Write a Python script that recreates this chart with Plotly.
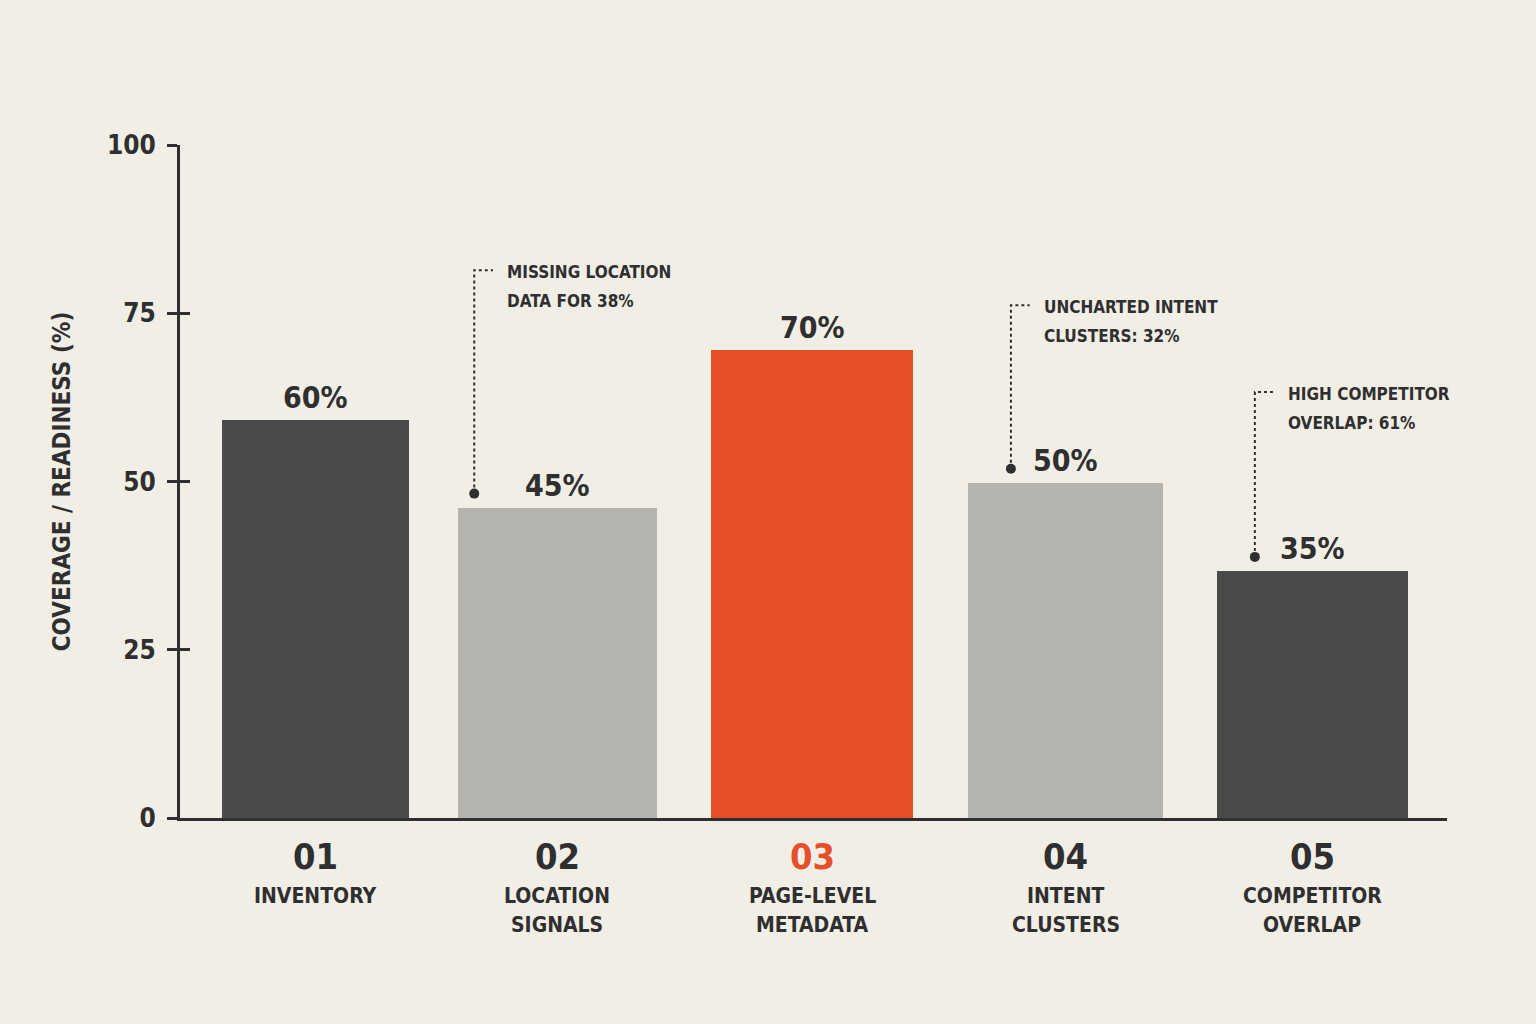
import plotly.graph_objects as go

# ---- data ----
codes = ["01", "02", "03", "04", "05"]
names = ["INVENTORY", "LOCATION<br>SIGNALS", "PAGE-LEVEL<br>METADATA", "INTENT<br>CLUSTERS", "COMPETITOR<br>OVERLAP"]
values = [59.2, 46.1, 69.6, 49.8, 36.7]
value_labels = ["60%", "45%", "70%", "50%", "35%"]
y_ticks = [0, 25, 50, 75, 100]

callout_cat = [1, 3, 4]
callout_text = ["MISSING LOCATION<br>DATA FOR 38%", "UNCHARTED INTENT<br>CLUSTERS: 32%", "HIGH COMPETITOR<br>OVERLAP: 61%"]
callout_top = [81.4, 76.2, 63.3]

# ---- style ----
BG = "#f1eee6"
INK = "#2f2f2f"
DARK = "#4a4a48"
LIGHT = "#b5b3ad"
ORANGE = "#e5502a"
bar_colors = [DARK, LIGHT, ORANGE, LIGHT, DARK]
code_colors = [INK, INK, ORANGE, INK, INK]
bar_widths = [0.745, 0.795, 0.805, 0.78, 0.765]
bar_shift = [0.016, -0.018, 0.0, 0.014, 0.0]
callout_dx = [-0.35, -0.205, -0.23]
FONT = "DejaVu Sans Condensed, Liberation Sans Narrow, Arial Narrow, sans-serif"

x = list(range(len(codes)))
fig = go.Figure()
fig.add_trace(go.Bar(x=x, y=values, width=bar_widths,
                     offset=[-w / 2 + s for w, s in zip(bar_widths, bar_shift)],
                     marker=dict(color=bar_colors, line=dict(width=0)),
                     hoverinfo="skip", showlegend=False))

# callouts
for c, txt, top, dx in zip(callout_cat, callout_text, callout_top, callout_dx):
    x0 = c + dx
    y0 = values[c] + 2.1
    x1 = x0 + 0.075
    fig.add_trace(go.Scatter(x=[x0, x0, x1], y=[y0, top, top], mode="lines",
                             line=dict(color=INK, width=2, dash="dot"), showlegend=False, hoverinfo="skip"))
    fig.add_trace(go.Scatter(x=[x0], y=[y0], mode="markers", marker=dict(color=INK, size=10),
                             showlegend=False, hoverinfo="skip"))
    for k, line in enumerate(txt.split("<br>")):
        fig.add_annotation(x=x1, y=top, text=line, showarrow=False, xanchor="left", yanchor="middle",
                           xshift=12, yshift=-2 - 29 * k, align="left",
                           font=dict(family=FONT, size=17, color=INK, weight="bold"))

# value labels
for xi, v, lab, s in zip(x, values, value_labels, bar_shift):
    fig.add_annotation(x=xi + s, y=v, text=lab, showarrow=False, yanchor="bottom", yshift=3,
                       font=dict(family=FONT, size=30, color=INK, weight="bold"))

# category labels
for xi, code, nm, cc, s in zip(x, codes, names, code_colors, bar_shift):
    fig.add_annotation(x=xi + s, y=0, text=code, showarrow=False, yanchor="middle", yshift=-38,
                       font=dict(family=FONT, size=36, color=cc, weight="bold"))
    for k, line in enumerate(nm.split("<br>")):
        fig.add_annotation(x=xi + s, y=0, text=line, showarrow=False, yanchor="middle",
                           yshift=-78 - 29 * k,
                           font=dict(family=FONT, size=21, color=INK, weight="bold"))

fig.update_layout(
    width=1536, height=1024,
    paper_bgcolor=BG, plot_bgcolor=BG,
    margin=dict(l=180, r=89, t=145, b=206),
    bargap=0,
    xaxis=dict(range=[-0.526, 4.538], showgrid=False, zeroline=False, showticklabels=False,
               showline=True, linecolor=INK, linewidth=3, ticks=""),
    yaxis=dict(range=[0, 100], tickvals=y_ticks, showgrid=False, zeroline=False,
               showline=True, linecolor=INK, linewidth=3, ticks="outside", ticklen=10,
               tickwidth=3, tickcolor=INK, ticklabelstandoff=6,
               tickfont=dict(family=FONT, size=26, color=INK, weight="bold"),
               title=dict(text="COVERAGE / READINESS (%)", standoff=30,
                          font=dict(family=FONT, size=24, color=INK, weight="bold"))),
    yaxis2=dict(range=[0, 100], overlaying="y", side="left", tickvals=y_ticks, showgrid=False,
                zeroline=False, showticklabels=False, ticks="inside", ticklen=10, tickwidth=3,
                tickcolor=INK, showline=False),
)
fig.add_trace(go.Scatter(x=[None], y=[None], yaxis="y2", showlegend=False, hoverinfo="skip"))

fig.write_html("out.html")
